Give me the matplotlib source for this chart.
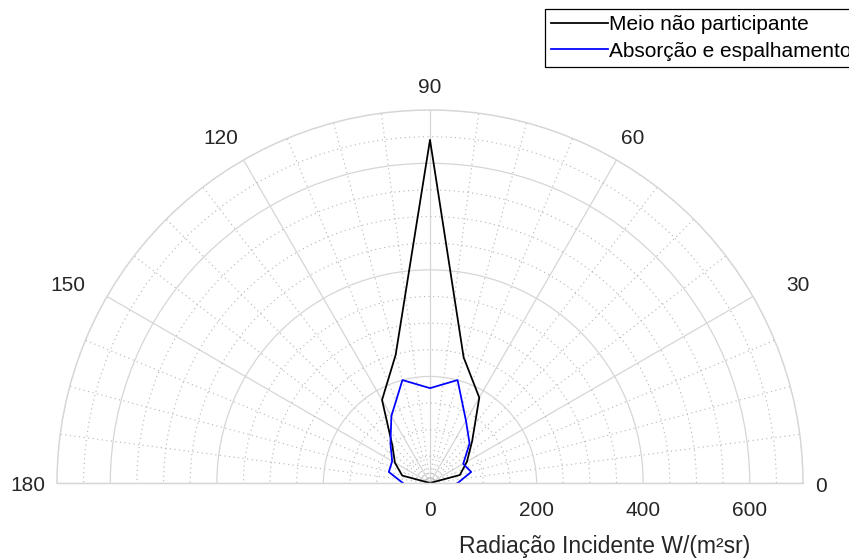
import numpy as np
import matplotlib
matplotlib.use("Agg")
import matplotlib.pyplot as plt
from matplotlib.ticker import MultipleLocator, FixedLocator

# Incident radiation against direction (degrees)
angles_deg = [0, 15, 30, 45, 60, 75, 90, 105, 120, 135, 150, 165, 180]
meio_nao_participante = [0, 58, 80, 112, 185, 244, 644, 249, 180, 100, 76, 54, 0]
absorcao_espalhamento = [52, 80, 72, 105, 135, 200, 178, 200, 145, 105, 82, 80, 51]

series_labels = ["Meio não participante", "Absorção e espalhamento"]
series_colors = ["black", "#0000ff"]

theta_ticks = [0, 30, 60, 90, 120, 150, 180]
r_ticks = [0, 200, 400, 600]
r_max = 700
r_label = "Radiação Incidente W/(m²sr)"

plt.rcParams["font.family"] = ["Liberation Sans", "DejaVu Sans"]

W, H, DPI = 849, 558, 150
fig = plt.figure(figsize=(W / DPI, H / DPI), dpi=DPI)

# half-polar axes: centre (430, 483) px from top-left, radius 373 px
cx, cy, R = 430, 483, 373
side = 2 * R
left = (cx - R) / W
bottom = ((H - cy) - R / 2) / H
ax = fig.add_axes([left, bottom, side / W, side / H], projection="polar")
ax.set_thetamin(0)
ax.set_thetamax(180)
ax.set_rlim(0, r_max)

grid_col = "#d6d6d6"
minor_col = "#b8b8b8"
ax.set_xticks(np.deg2rad(theta_ticks))
ax.xaxis.set_minor_locator(FixedLocator(np.deg2rad(np.arange(0, 180.1, 7.5))))
ax.set_yticks(r_ticks)
ax.yaxis.set_minor_locator(MultipleLocator(50))
ax.grid(which="major", color=grid_col, linewidth=0.6, linestyle="-")
ax.grid(which="minor", color=minor_col, linewidth=0.55, linestyle=(0, (1, 3)))
ax.tick_params(which="both", length=0, labelbottom=False, labelleft=False,
               labelright=False, labeltop=False)
ax.set_xticklabels([])
ax.set_yticklabels([])
for sp in ax.spines.values():
    sp.set_color(grid_col)
    sp.set_linewidth(0.7)

th = np.deg2rad(angles_deg)
h1, = ax.plot(th, meio_nao_participante, color=series_colors[0], linewidth=0.85,
              label=series_labels[0])
h2, = ax.plot(th, absorcao_espalhamento, color=series_colors[1], linewidth=0.85,
              label=series_labels[1])

txt_col = "#262626"
px2pt = 72 / DPI
# label centre offsets (px) from the rim point of each angle
theta_label_offsets = {0: (18, -3), 30: (45, 11), 60: (16, 21), 90: (0, 23),
                       120: (-23, 21), 150: (-39, 11), 180: (-29, -3)}
for a in theta_ticks:
    dx, dy = theta_label_offsets[a]
    ax.annotate(str(a), xy=(np.deg2rad(a), r_max), xytext=(dx * px2pt, dy * px2pt),
                textcoords="offset points", ha="center", va="center", fontsize=10,
                color=txt_col, annotation_clip=False)

lab_off = -27 * px2pt
for r in r_ticks:
    ax.annotate(str(r), xy=(0, r), xytext=(0, lab_off), textcoords="offset points",
                ha="center", va="center", fontsize=10, color=txt_col,
                annotation_clip=False)

fig.text(605 / W, 1 - 547 / H, r_label, ha="center", va="center", fontsize=11,
         color=txt_col)

leg = fig.legend([h1, h2], series_labels, loc="upper left",
                 bbox_to_anchor=(545 / W, 1 - 9 / H), bbox_transform=fig.transFigure,
                 borderaxespad=0, frameon=True, fancybox=False, edgecolor="black",
                 framealpha=1, handlelength=2.74, handletextpad=0.05, borderpad=0.3,
                 labelspacing=0.35, fontsize=10)
leg.get_frame().set_linewidth(0.6)

fig.savefig("out.png", dpi=DPI)
